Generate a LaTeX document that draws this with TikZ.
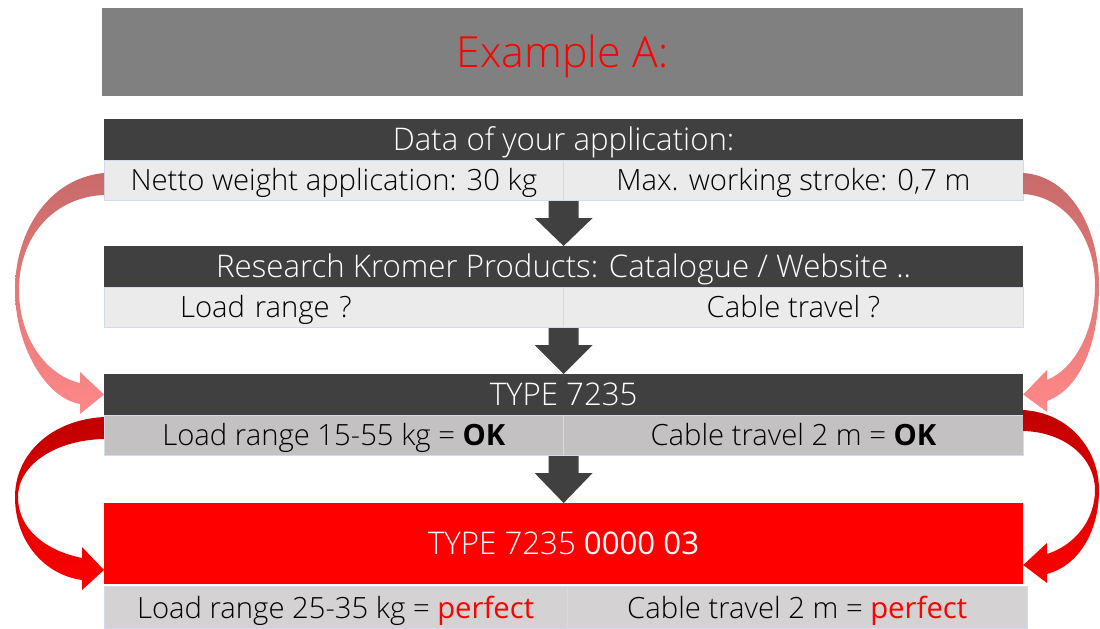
\documentclass[tikz,border=0pt]{standalone}
\usepackage{fontspec}
\setmainfont{Open Sans}[UprightFont={* Light}, BoldFont={* Bold}]
\newfontfamily\regfont{Open Sans}
\usetikzlibrary{positioning,calc}
\definecolor{titlegray}{HTML}{808080}
\definecolor{hdrgray}{HTML}{404040}
\definecolor{cellA}{HTML}{EBEBEB}
\definecolor{cellB}{HTML}{C3C1C2}
\definecolor{cellC}{HTML}{D4D2D2}
\definecolor{cellline}{HTML}{D3DAEE}
\definecolor{pinkA}{HTML}{C96A6A}
\definecolor{pinkB}{HTML}{FF8888}
\definecolor{redA}{HTML}{C00000}
\definecolor{redB}{HTML}{FF0000}

\begin{document}
\begin{tikzpicture}[x=0.025cm,y=-0.025cm,
		every node/.style={inner sep=0pt, outer sep=0pt, text height=14.8pt, text depth=0pt,
			font=\fontsize{20.8}{24}\selectfont},
		title/.style={fill=titlegray, text=red, minimum width=23.025cm, minimum height=2.2cm,
			text height=21.8pt, font=\fontsize{30.5}{36}\selectfont},
		hdr/.style={fill=hdrgray, text=white, minimum width=22.975cm, minimum height=1.025cm,
			text height=15.8pt, font=\fontsize{22.2}{26}\selectfont},
		cell/.style={fill=cellA, draw=cellline, line width=0.6pt, minimum width=11.4875cm, minimum height=1cm}]
		\useasboundingbox (0,0) rectangle (1100,629);
		
		\node[title] (title) at (562.5,52) {Example A:};
		
		\node[hdr, anchor=north west] (head1) at (104,119) {Data of your application:};
		\node[cell, below=0pt of head1.south west, anchor=north west] (n1l) {Netto weight application: 30 kg};
		\node[cell, right=0pt of n1l] (n1r) {Max. working stroke: 0,7 m};
		
		\node[hdr, anchor=north west] (head2) at (104,246) {Research Kromer Products: Catalogue / Website ..};
		\node[cell, below=0pt of head2.south west, anchor=north west, text width=11.4875cm, align=left] (n2l) {\hspace*{1.9cm}Load range ?};
		\node[cell, right=0pt of n2l] (n2r) {Cable travel ?};
		
		\node[hdr, anchor=north west] (head3) at (104,374) {TYPE 7235};
		\node[cell, fill=cellB, below=0pt of head3.south west, anchor=north west] (n3l) {Load range 15-55 kg = \textbf{OK}};
		\node[cell, fill=cellB, right=0pt of n3l] (n3r) {Cable travel 2 m = \textbf{OK}};
		
		\node[hdr, fill=redB, minimum height=2.025cm, anchor=north west] (final) at (104,503) {TYPE 7235 {\regfont 0000 03}};
		\node[cell, fill=cellC, minimum width=11.575cm, minimum height=1.05cm, below=2pt of final.south west, anchor=north west] (n5l) {Load range 25-35 kg = {\regfont\textcolor{red}{perfect}}};
		\node[cell, fill=cellC, minimum width=11.5cm, minimum height=1.05cm, right=0pt of n5l] (n5r) {Cable travel 2 m = {\regfont\textcolor{red}{perfect}}};
		
		% down arrows
		\foreach \a/\b in {n1r/head2, n2r/head3, n3r/final}
		\fill[hdrgray] ($(\a.south west)+(-15,1)$) -- ++(30,0) -- ++(0,17) -- ++(14,0) -- (\b.north)
		-- ($(\a.south west)+(-29,18)$) -- ++(14,0) -- cycle;
		
		% curved arrows
		\shade[top color=pinkA, bottom color=pinkB]
		(n1l.west |- 0,173) .. controls (50,178) and (15,230) .. (15,290)
		.. controls (15,345) and (45,398) .. (80,404) -- (80,414) -- (head3.west) -- (80,372) -- (80,383)
		.. controls (48,376) and (19,340) .. (19,290) .. controls (19,235) and (55,197) .. (n1l.west |- 0,195) -- cycle;
		\shade[top color=pinkA, bottom color=pinkB]
		(n1r.east |- 0,173) .. controls (1070,176) and (1099,228) .. (1099,285)
		.. controls (1099,340) and (1082,388) .. (1047,401) -- (1047,412) -- (head3.east) -- (1047,370) -- (1047,380)
		.. controls (1074,369) and (1095,332) .. (1095,285) .. controls (1095,236) and (1064,196) .. (n1r.east |- 0,194) -- cycle;
		\shade[top color=redA, bottom color=redB]
		(n3l.west |- 0,417) .. controls (50,420) and (15,455) .. (15,497)
		.. controls (15,542) and (45,575) .. (82,580) -- (82,590) -- (final.west |- 0,570) -- (82,547) -- (82,558)
		.. controls (47,551) and (18,530) .. (18,497) .. controls (18,465) and (55,440) .. (n3l.west |- 0,439) -- cycle;
		\shade[top color=redA, bottom color=redB]
		(n3r.east |- 0,410) .. controls (1070,413) and (1099,450) .. (1099,490)
		.. controls (1099,530) and (1080,565) .. (1047,574) -- (1047,583) -- (final.east |- 0,565) -- (1047,543) -- (1047,554)
		.. controls (1075,545) and (1095,520) .. (1095,490) .. controls (1095,458) and (1065,432) .. (n3r.east |- 0,431) -- cycle;
		
	\end{tikzpicture}
\end{document}
